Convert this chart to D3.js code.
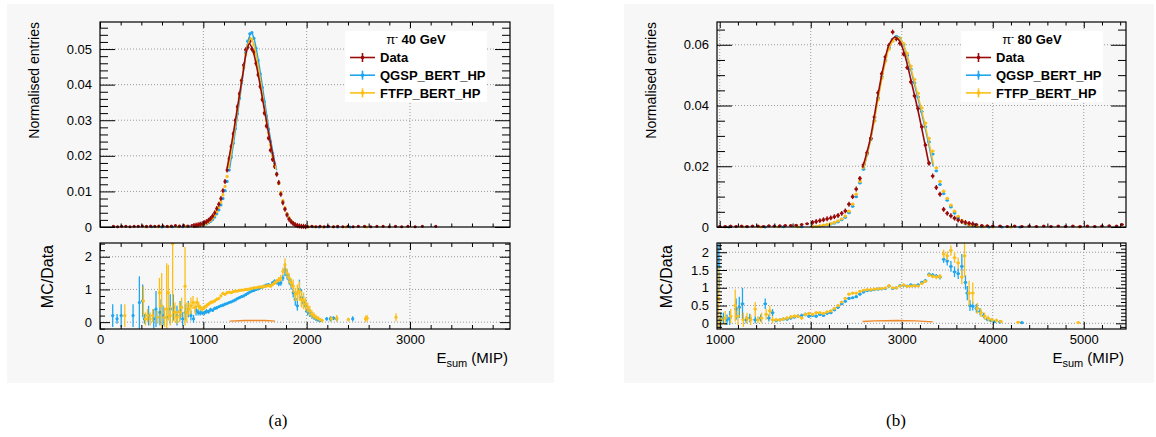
<!DOCTYPE html>
<html><head><meta charset="utf-8">
<script src="https://cdnjs.cloudflare.com/ajax/libs/d3/7.8.5/d3.min.js"></script>
<style>body{margin:0;background:#fff}svg{display:block}text{font-family:"Liberation Sans",Arial,Helvetica,sans-serif}</style>
</head><body><svg id="c" width="1156" height="437"></svg>
<script>
// ---------------- DATA ----------------
const seriesNames = ["Data", "QGSP_BERT_HP", "FTFP_BERT_HP"];
const titleA = "40 GeV", titleB = "80 GeV";
const xTicksA = [0, 1000, 2000, 3000];
const yTicksA = [0, 0.01, 0.02, 0.03, 0.04, 0.05];
const rTicksA = [0, 1, 2];
const xTicksB = [1000, 2000, 3000, 4000, 5000];
const yTicksB = [0, 0.02, 0.04, 0.06];
const rTicksB = [0, 0.5, 1, 1.5, 2];

// panel (a): bin centres (MIP) and normalised entries
const binsA = [910,930,950,970,990,1010,1030,1050,1070,1090,1110,1130,1150,1170,1190,1210,1230,1250,1270,1290,1310,1330,1350,1370,1390,1410,1430,1450,1470,1490,1510,1530,1550,1570,1590,1610,1630,1650,1670,1690,1710,1730,1750,1770,1790,1810,1830,1850,1870,1890,1910,1930,1950,1970,1990];
const dataA = [0.0004,0.0005,0.0006,0.0008,0.0009,0.0012,0.0015,0.0019,0.0024,0.0031,
0.0040,0.0052,0.0064,0.0080,0.0102,0.0128,0.0160,0.0192,0.0226,0.0262,
0.0300,0.0338,0.0375,0.0412,0.0455,0.0498,0.0505,0.0522,0.0500,0.0492,
0.0460,0.0428,0.0395,0.0358,0.0320,0.0284,0.0250,0.0216,0.0190,0.0170,
0.0148,0.0125,0.0092,0.0068,0.0050,0.0034,0.0022,0.0015,0.0010,0.0006,
0.0004,0.0003,0.0002,0.0002,0.0001];
const qgspA = [0.0002,0.0003,0.0003,0.0004,0.0005,0.0007,0.0009,0.0012,0.0016,0.0021,
0.0028,0.0037,0.0048,0.0062,0.0080,0.0102,0.0128,0.0160,0.0196,0.0235,
0.0276,0.0318,0.0362,0.0405,0.0448,0.0490,0.0522,0.0543,0.0546,0.0530,
0.0502,0.0468,0.0430,0.0392,0.0352,0.0312,0.0275,0.0240,0.0207,0.0178,
0.0150,0.0122,0.0096,0.0072,0.0052,0.0036,0.0024,0.0016,0.0010,0.0006,
0.0004,0.0002,0.0001,0.0001,0.0001];
const ftfpA = [0.0002,0.0003,0.0004,0.0005,0.0006,0.0008,0.0011,0.0014,0.0019,0.0025,
0.0033,0.0043,0.0055,0.0070,0.0090,0.0114,0.0142,0.0175,0.0210,0.0248,
0.0288,0.0328,0.0368,0.0408,0.0448,0.0485,0.0512,0.0530,0.0528,0.0512,
0.0485,0.0452,0.0415,0.0376,0.0338,0.0300,0.0264,0.0230,0.0200,0.0174,
0.0148,0.0122,0.0097,0.0074,0.0054,0.0038,0.0026,0.0017,0.0011,0.0007,
0.0004,0.0003,0.0002,0.0001,0.0001];
const dataTailA = [[130,0.0002],[170,0.0001],[210,0.0002],[250,0.0002],[290,0.0001],[330,0.0002],[370,0.0002],[410,0.0003],[450,0.0002],[490,0.0003],[530,0.0002],[570,0.0003],[610,0.0003],[650,0.0002],[690,0.0003],[730,0.0004],[770,0.0003],[810,0.0004],[850,0.0003],[890,0.0004],
[2010,0.0001],[2050,0.0002],[2090,0.0001],[2130,0.0002],[2170,0.0001],[2210,0.0002],[2260,0.0001],[2300,0.0002],[2350,0.0001],[2400,0.0002],[2450,0.0001],[2500,0.0002],[2560,0.0002],[2620,0.0001],[2680,0.0002],[2740,0.0002],[2800,0.0001],[2860,0.0002],[2920,0.0001],[2980,0.0002],[3050,0.0001],[3120,0.0002],[3250,0.0002]];
const qgspTailA = [[500,0.0001],[600,0.0000],[700,0.0001],[800,0.0001],[860,0.0002],[2010,0.0001],[2060,0.0001],[2120,0.0000],[2200,0.0001],[2300,0.0000],[2420,0.0000]];
const ftfpTailA = [[450,0.0000],[560,0.0001],[660,0.0001],[760,0.0001],[840,0.0002],[2020,0.0001],[2080,0.0001],[2160,0.0000],[2260,0.0001],[2380,0.0000],[2580,0.0000]];
const fitA_data = [[1230,0.0165],[1280,0.0245],[1330,0.0335],[1380,0.0425],[1415,0.0490],[1445,0.0515],[1475,0.0500],[1520,0.0445],[1570,0.0365],[1620,0.0282],[1660,0.0220],[1694,0.0172]];
const fitA_qgsp = [[1255,0.0165],[1300,0.0250],[1350,0.0355],[1400,0.0460],[1440,0.0530],[1465,0.0545],[1490,0.0530],[1540,0.0455],[1590,0.0360],[1640,0.0265],[1680,0.0200],[1710,0.0160]];
const fitA_ftfp = [[1245,0.0165],[1290,0.0245],[1340,0.0345],[1390,0.0445],[1430,0.0510],[1455,0.0528],[1480,0.0520],[1530,0.0452],[1580,0.0360],[1630,0.0270],[1670,0.0205],[1705,0.0162]];
// ratio (a): [E, MC/Data, error]
const ratioA_qgsp = [[123,0.2,0.35],[165,0.1,0.15],[205,0.2,0.35],[320,0.2,0.35],[381,0.6,0.8],[413,0.65,0.5],[430,0.1,0.15],[470,0.2,0.3],[520,0.1,0.3],[542,0.4,0.55],[580,0.3,0.4],[610,0.2,0.3],[645,0.15,0.25],[680,0.4,0.45],[710,0.45,0.4],[745,0.2,0.3],[775,0.35,0.3],[800,0.1,0.2],[825,0.3,0.25],[855,0.4,0.25],[880,0.2,0.15],[905,0.1,0.12],[930,0.35,0.15],[950,0.3,0.1],
[970,0.28,0.08],[990,0.3,0.08],[1010,0.28,0.07],[1030,0.33,0.07],[1050,0.32,0.06],[1070,0.38,0.06],[1090,0.36,0.05],[1110,0.42,0.05],[1130,0.44,0.05],[1150,0.47,0.04],[1170,0.5,0.04],[1190,0.52,0.04],[1210,0.55,0.03],[1230,0.57,0.03],[1250,0.6,0.03],[1270,0.62,0.03],[1290,0.65,0.03],[1310,0.68,0.03],[1330,0.72,0.03],[1350,0.75,0.03],[1370,0.78,0.03],[1390,0.8,0.03],[1410,0.84,0.03],[1430,0.88,0.03],[1450,0.92,0.03],[1470,0.95,0.03],[1490,0.97,0.03],[1510,1.0,0.03],[1530,1.02,0.03],[1550,1.05,0.03],[1570,1.07,0.03],[1590,1.1,0.04],[1610,1.13,0.04],[1630,1.15,0.04],[1650,1.12,0.05],[1670,1.2,0.05],[1690,1.25,0.06],[1710,1.22,0.07],[1730,1.18,0.08],[1750,1.2,0.09],[1770,1.35,0.1],[1790,1.6,0.2],[1810,1.45,0.15],[1830,1.3,0.15],[1850,1.15,0.15],[1870,0.9,0.15],[1890,0.7,0.2],[1910,0.5,0.15],[1930,1.0,0.3],[1950,0.75,0.25],[1970,0.6,0.2],[1990,0.5,0.2],[2010,0.35,0.15],[2030,0.28,0.12],[2050,0.2,0.1],[2070,0.15,0.08],[2090,0.1,0.06],[2110,0.07,0.05],[2130,0.05,0.05],[2194,0.1,0.06],[2230,0.1,0.08],[2260,0.12,0.06],[2291,0.1,0.08],[2446,0.1,0.08]];
const ratioA_ftfp = [[240,0.2,0.35],[420,0.65,0.45],[440,0.1,0.2],[460,0.2,0.2],[485,0.1,0.2],[510,0.2,0.2],[560,0.15,0.2],[575,0.9,0.45],[597,0.5,1.0],[625,0.15,0.3],[645,0.4,1.4],[661,0.9,0.85],[680,0.2,0.3],[703,2.4,2.4],[725,0.3,0.3],[745,0.15,0.2],[770,0.3,0.3],[790,0.45,0.3],[823,1.1,1.2],[840,0.3,0.3],[860,0.4,0.2],[880,0.5,0.25],[900,0.6,0.2],[920,0.45,0.2],[940,0.6,0.15],[955,0.5,0.12],
[970,0.45,0.08],[990,0.4,0.08],[1010,0.45,0.07],[1030,0.5,0.07],[1050,0.55,0.06],[1070,0.6,0.06],[1090,0.62,0.05],[1110,0.65,0.05],[1130,0.7,0.05],[1150,0.72,0.04],[1170,0.8,0.04],[1190,0.88,0.04],[1210,0.85,0.03],[1230,0.9,0.03],[1250,0.92,0.03],[1270,0.9,0.03],[1290,0.93,0.03],[1310,0.95,0.03],[1330,0.95,0.03],[1350,0.97,0.03],[1370,0.98,0.03],[1390,0.98,0.03],[1410,1.0,0.03],[1430,1.0,0.03],[1450,1.02,0.03],[1470,1.03,0.03],[1490,1.05,0.03],[1510,1.05,0.03],[1530,1.07,0.03],[1550,1.08,0.03],[1570,1.07,0.03],[1590,1.1,0.04],[1610,1.1,0.04],[1630,1.12,0.04],[1650,1.1,0.05],[1670,1.15,0.05],[1690,1.2,0.06],[1710,1.25,0.07],[1730,1.3,0.08],[1750,1.35,0.1],[1770,1.55,0.12],[1790,1.75,0.2],[1810,1.5,0.15],[1830,1.35,0.15],[1850,1.2,0.15],[1870,1.1,0.2],[1890,0.85,0.2],[1910,0.9,0.25],[1930,0.95,0.3],[1950,0.7,0.25],[1970,0.65,0.25],[1990,0.55,0.2],[2010,0.45,0.15],[2030,0.35,0.15],[2050,0.25,0.12],[2070,0.2,0.1],[2090,0.15,0.08],[2110,0.12,0.06],[2130,0.08,0.05],[2150,0.05,0.05],[2240,0.1,0.08],[2291,0.12,0.1],[2404,0.08,0.06],[2570,0.1,0.1],[2585,0.12,0.1],[2865,0.15,0.12]];
const ratioA_line = [[1255,0.03],[1400,0.05],[1600,0.05],[1694,0.03]];

// panel (b)
const binsB = [2020,2060,2100,2140,2180,2220,2260,2300,2340,2380,2420,2460,2500,2540,2580,2620,2660,2700,2740,2780,2820,2860,2900,2940,2980,3020,3060,3100,3140,3180,3220,3260,3300,3340,3380,3420,3460,3500,3540,3580,3620,3660,3700,3740,3780];
const dataB = [0.0015,0.0018,0.0021,0.0024,0.0027,0.0030,0.0034,0.0038,0.0045,0.0053,
0.0075,0.0100,0.0125,0.0160,0.0205,0.0245,0.0292,0.0362,0.0442,0.0505,
0.0560,0.0598,0.0642,0.0620,0.0605,0.0570,0.0525,0.0478,0.0432,0.0390,
0.0330,0.0270,0.0210,0.0168,0.0130,0.0108,0.0058,0.0045,0.0037,0.0029,
0.0023,0.0018,0.0015,0.0012,0.0010];
const qgspB = [0.0001,0.0002,0.0003,0.0005,0.0007,0.0010,0.0013,0.0017,0.0024,0.0032,
0.0047,0.0068,0.0100,0.0145,0.0190,0.0240,0.0288,0.0350,0.0425,0.0495,
0.0550,0.0590,0.0618,0.0628,0.0622,0.0600,0.0565,0.0520,0.0475,0.0428,
0.0380,0.0330,0.0280,0.0240,0.0185,0.0140,0.0110,0.0088,0.0066,0.0046,
0.0030,0.0018,0.0010,0.0006,0.0004];
const ftfpB = [0.0001,0.0002,0.0004,0.0006,0.0008,0.0011,0.0015,0.0020,0.0027,0.0036,
0.0052,0.0075,0.0108,0.0150,0.0195,0.0242,0.0290,0.0348,0.0420,0.0490,
0.0545,0.0585,0.0612,0.0625,0.0622,0.0604,0.0572,0.0530,0.0486,0.0440,
0.0392,0.0342,0.0292,0.0250,0.0195,0.0150,0.0118,0.0094,0.0072,0.0052,
0.0035,0.0022,0.0012,0.0007,0.0004];
const dataTailB = [[1000,0.0002],[1060,0.0002],[1120,0.0003],[1180,0.0002],[1240,0.0003],[1300,0.0002],[1360,0.0003],[1420,0.0003],[1480,0.0002],[1540,0.0004],[1600,0.0003],[1660,0.0004],[1720,0.0005],[1780,0.0005],[1840,0.0006],[1900,0.0008],[1960,0.0011],
[3820,0.0008],[3880,0.0005],[3940,0.0004],[4000,0.0003],[4080,0.0003],[4160,0.0002],[4240,0.0003],[4320,0.0002],[4400,0.0003],[4480,0.0002],[4560,0.0003],[4640,0.0002],[4720,0.0003],[4800,0.0002],[4880,0.0003],[4960,0.0002],[5040,0.0003],[5120,0.0002],[5200,0.0003],[5280,0.0004],[5360,0.0003],[5420,0.0008]];
const qgspTailB = [[1100,0.0000],[1300,0.0001],[1500,0.0000],[1700,0.0001],[1900,0.0001],[3820,0.0002],[3880,0.0001],[3960,0.0000],[4100,0.0000],[4300,0.0000]];
const ftfpTailB = [[1060,0.0000],[1250,0.0001],[1450,0.0000],[1650,0.0001],[1860,0.0001],[3830,0.0002],[3900,0.0001],[4000,0.0000],[4200,0.0000],[4950,0.0000]];
const fitB_data = [[2570,0.0195],[2650,0.0285],[2730,0.0420],[2800,0.0530],[2860,0.0600],[2920,0.0625],[2970,0.0615],[3030,0.0570],[3100,0.0485],[3170,0.0395],[3240,0.0295],[3300,0.0205]];
const fitB_qgsp = [[2580,0.0190],[2660,0.0290],[2740,0.0425],[2810,0.0535],[2870,0.0600],[2940,0.0628],[3000,0.0612],[3070,0.0550],[3140,0.0470],[3210,0.0385],[3280,0.0295],[3345,0.0200]];
const fitB_ftfp = [[2580,0.0192],[2660,0.0290],[2740,0.0420],[2810,0.0530],[2870,0.0596],[2940,0.0625],[3000,0.0612],[3070,0.0555],[3140,0.0478],[3210,0.0395],[3280,0.0305],[3350,0.0205]];
const ratioB_qgsp = [[990,1.6,0.7],[1010,0.1,0.2],[1040,0.15,0.15],[1080,0.1,0.15],[1110,0.15,0.2],[1180,0.4,0.3],[1215,0.45,0.3],[1250,0.55,0.45],[1290,0.1,0.1],[1330,0.15,0.12],[1390,0.1,0.1],[1450,0.15,0.1],[1500,0.55,0.15],[1540,0.15,0.1],[1580,0.3,0.1],
[1620,0.08,0.05],[1660,0.1,0.05],[1700,0.12,0.05],[1740,0.12,0.05],[1780,0.15,0.05],[1820,0.18,0.05],[1860,0.2,0.05],[1900,0.22,0.05],[1940,0.25,0.05],[1980,0.2,0.04],[2020,0.22,0.04],[2060,0.2,0.04],[2100,0.25,0.04],[2140,0.22,0.03],[2180,0.28,0.03],[2220,0.3,0.03],[2260,0.38,0.03],[2300,0.45,0.03],[2340,0.55,0.03],[2380,0.62,0.03],[2420,0.7,0.03],[2460,0.72,0.03],[2500,0.75,0.03],[2540,0.82,0.03],[2580,0.88,0.02],[2620,0.92,0.02],[2660,0.93,0.02],[2700,0.95,0.02],[2740,0.96,0.02],[2780,0.97,0.02],[2820,0.98,0.02],[2860,1.05,0.02],[2900,0.98,0.02],[2940,1.0,0.02],[2980,1.06,0.02],[3020,1.07,0.02],[3060,1.05,0.02],[3100,1.08,0.03],[3140,1.06,0.03],[3180,1.08,0.03],[3220,1.15,0.03],[3260,1.2,0.04],[3300,1.38,0.05],[3340,1.36,0.05],[3380,1.33,0.06],[3420,1.3,0.07],[3460,1.8,0.1],[3500,1.75,0.12],[3540,1.6,0.15],[3580,1.45,0.15],[3620,1.4,0.15],[3660,1.6,0.35],[3700,1.15,0.2],[3720,0.85,0.2],[3750,0.5,0.15],[3780,0.48,0.12],[3820,0.42,0.12],[3860,0.33,0.1],[3900,0.22,0.08],[3940,0.12,0.06],[3980,0.08,0.05],[4020,0.05,0.04],[4080,0.04,0.04],[4320,0.02,0.03]];
const ratioB_ftfp = [[985,0.7,0.9],[1020,0.1,0.15],[1060,0.15,0.2],[1120,0.2,0.2],[1170,0.5,0.45],[1200,0.2,0.25],[1260,0.1,0.2],[1300,0.15,0.15],[1340,0.1,0.15],[1390,0.4,0.2],[1420,0.1,0.1],[1460,0.15,0.15],[1510,0.25,0.15],[1550,0.35,0.15],[1580,0.1,0.1],
[1620,0.1,0.05],[1660,0.1,0.05],[1700,0.12,0.05],[1740,0.15,0.05],[1780,0.18,0.05],[1820,0.2,0.05],[1860,0.2,0.05],[1900,0.15,0.05],[1940,0.25,0.05],[1980,0.28,0.04],[2020,0.25,0.04],[2060,0.3,0.04],[2100,0.3,0.04],[2140,0.28,0.03],[2180,0.32,0.03],[2220,0.35,0.03],[2260,0.42,0.03],[2300,0.5,0.03],[2340,0.6,0.03],[2380,0.7,0.03],[2420,0.82,0.03],[2460,0.85,0.03],[2500,0.85,0.03],[2540,0.9,0.03],[2580,0.93,0.02],[2620,0.95,0.02],[2660,0.95,0.02],[2700,0.96,0.02],[2740,0.97,0.02],[2780,0.98,0.02],[2820,1.0,0.02],[2860,1.06,0.02],[2900,1.0,0.02],[2940,1.0,0.02],[2980,1.05,0.02],[3020,1.08,0.02],[3060,1.04,0.02],[3100,1.05,0.03],[3140,1.06,0.03],[3180,1.05,0.03],[3220,1.12,0.03],[3260,1.18,0.04],[3300,1.35,0.05],[3340,1.32,0.05],[3380,1.3,0.06],[3420,1.32,0.07],[3460,1.95,0.12],[3500,1.9,0.12],[3540,2.05,0.15],[3580,1.85,0.15],[3620,1.7,0.15],[3660,1.3,0.2],[3690,1.9,0.6],[3740,0.85,0.35],[3780,0.85,0.3],[3830,0.42,0.15],[3870,0.3,0.12],[3910,0.2,0.1],[3950,0.14,0.08],[3990,0.1,0.06],[4040,0.08,0.05],[4090,0.05,0.04],[4280,0.03,0.03],[4940,0.02,0.03]];
const ratioB_line = [[2570,0.05],[2700,0.07],[2950,0.08],[3150,0.07],[3340,0.04]];

// ---------------- STYLE ----------------
const C = {data:"#990b0b", qgsp:"#1fa6ee", ftfp:"#fcbf17", line:"#f0892a"};
const svg = d3.select("#c");
const FONT = '"Liberation Sans",Arial,Helvetica,sans-serif';

function minors(a, b, step, major){
  const out = [];
  for (let i = Math.ceil(a/step - 1e-9); i*step <= b + 1e-9; i++){
    const v = i*step;
    const q = v/major;
    if (Math.abs(q - Math.round(q)) > 1e-6) out.push(+v.toFixed(6));
  }
  return out;
}

function addAxis(g, axis, tr, fs){
  const s = g.append("g").attr("transform", tr).call(axis);
  s.attr("font-size", null).attr("font-family", null);
  s.select(".domain").remove();
  s.selectAll("line").attr("stroke", "#000").attr("stroke-width", 1);
  s.selectAll("text").attr("fill", "#000").style("font-size", (fs||13) + "px").style("font-family", FONT);
  return s;
}

function frame(g, sx, sy, box, o){
  // grid
  const gg = g.append("g").attr("stroke", "#9a9a9a").attr("stroke-dasharray", "1,2").attr("stroke-width", 1);
  o.xMajor.forEach(v => { const px = sx(v); if (px > box.l + 1 && px < box.r - 1)
    gg.append("line").attr("x1", px).attr("x2", px).attr("y1", box.t).attr("y2", box.b); });
  o.yMajor.forEach(v => { const py = sy(v); if (py > box.t + 1 && py <= box.b - 0.5 || (o.gridZero && Math.abs(py-box.b) > 1))
    gg.append("line").attr("x1", box.l).attr("x2", box.r).attr("y1", py).attr("y2", py); });
}

function axesOn(g, sx, sy, box, o){
  const xMin = o.xMinor, yMin = o.yMinor;
  addAxis(g, d3.axisBottom(sx).tickValues(xMin).tickSize(-o.xMinLen).tickFormat(""), `translate(0,${box.b})`);
  addAxis(g, d3.axisBottom(sx).tickValues(o.xMajor).tickSize(-o.xMajLen).tickPadding(6).tickFormat(o.xLabels ? (d => String(d)) : ""), `translate(0,${box.b})`);
  addAxis(g, d3.axisTop(sx).tickValues(xMin).tickSize(-o.xMinLen).tickFormat(""), `translate(0,${box.t})`);
  addAxis(g, d3.axisTop(sx).tickValues(o.xMajor).tickSize(-o.xMajLen).tickFormat(""), `translate(0,${box.t})`);
  addAxis(g, d3.axisLeft(sy).tickValues(yMin).tickSize(-o.yMinLen).tickFormat(""), `translate(${box.l},0)`);
  addAxis(g, d3.axisLeft(sy).tickValues(o.yMajor).tickSize(-o.yMajLen).tickPadding(8).tickFormat(d => String(d)), `translate(${box.l},0)`, o.yFs);
  addAxis(g, d3.axisRight(sy).tickValues(yMin).tickSize(-o.yMinLen).tickFormat(""), `translate(${box.r},0)`);
  addAxis(g, d3.axisRight(sy).tickValues(o.yMajor).tickSize(-o.yMajLen).tickFormat(""), `translate(${box.r},0)`);
  g.append("rect").attr("x", box.l).attr("y", box.t).attr("width", box.r - box.l).attr("height", box.b - box.t)
    .attr("fill", "none").attr("stroke", "#000").attr("stroke-width", 1.2);
}

function points(g, pts, sx, sy, color, hw, r){
  const s = g.append("g").attr("stroke", color).attr("fill", color).attr("stroke-width", 1.3);
  pts.forEach(p => {
    const [E, v, e] = p;
    const px = sx(E), py = sy(v);
    if (e > 0) s.append("line").attr("x1", px).attr("x2", px).attr("y1", sy(v - e)).attr("y2", sy(v + e));
    s.append("line").attr("x1", sx(E - hw)).attr("x2", sx(E + hw)).attr("y1", py).attr("y2", py);
    s.append("circle").attr("cx", px).attr("cy", py).attr("r", r).attr("stroke", "none");
  });
}

function legend(g, x0, y0, title){
  g.append("rect").attr("x", x0).attr("y", y0).attr("width", 142).attr("height", 71).attr("fill", "#fff");
  const t = g.append("text").attr("x", x0 + 71).attr("y", y0 + 13).attr("text-anchor", "middle")
    .style("font-size", "13px").style("font-weight", "bold");
  t.append("tspan").text("\u03c0").style("font-weight", "normal");
  t.append("tspan").text("-").attr("dy", -5).style("font-size", "8px");
  t.append("tspan").text(" " + title).attr("dy", 5);
  const cols = [C.data, C.qgsp, C.ftfp];
  seriesNames.forEach((n, i) => {
    const cy = y0 + 26.5 + i * 17.7;
    g.append("line").attr("x1", x0 + 5).attr("x2", x0 + 30).attr("y1", cy).attr("y2", cy).attr("stroke", cols[i]).attr("stroke-width", 1.6);
    g.append("line").attr("x1", x0 + 17.5).attr("x2", x0 + 17.5).attr("y1", cy - 4.5).attr("y2", cy + 4.5).attr("stroke", cols[i]).attr("stroke-width", 1.6);
    g.append("circle").attr("cx", x0 + 17.5).attr("cy", cy).attr("r", 1.8).attr("fill", cols[i]);
    g.append("text").attr("x", x0 + 35).attr("y", cy + 4.7).text(n).style("font-size", "13px").style("font-weight", "bold");
  });
}

function panel(P){
  const g = svg.append("g");
  g.append("rect").attr("x", P.bg[0]).attr("y", P.bg[1]).attr("width", P.bg[2]).attr("height", P.bg[3]).attr("fill", "#f7f7f7");
  const M = {l: P.l, r: P.r, t: 22, b: 227}, R = {l: P.l, r: P.r, t: 243, b: 329};
  const sx = d3.scaleLinear().domain(P.xDom).range([P.l, P.r]);
  const sy = d3.scaleLinear().domain(P.yDom).range([M.b, M.t]);
  const sr = d3.scaleLinear().domain(P.rDom).range([R.b, R.t]);
  const id = P.id;
  const defs = g.append("defs");
  defs.append("clipPath").attr("id", "cm" + id).append("rect").attr("x", M.l).attr("y", M.t).attr("width", M.r - M.l).attr("height", M.b - M.t + 3);
  defs.append("clipPath").attr("id", "cr" + id).append("rect").attr("x", R.l).attr("y", R.t).attr("width", R.r - R.l).attr("height", R.b - R.t);

  const xMinor = minors(P.xDom[0], P.xDom[1], P.xMinStep, P.xMajStep);
  frame(g, sx, sy, M, {xMajor: P.xTicks, yMajor: P.yTicks});
  frame(g, sx, sr, R, {xMajor: P.xTicks, yMajor: P.rTicks, gridZero: true});

  // main plot
  const gm = g.append("g").attr("clip-path", `url(#cm${id})`);
  const hw = P.binW / 2;
  const tri = (bins, vals, e) => bins.map((b, i) => [b, vals[i], e]);
  const tail = (arr, e) => arr.map(d => [d[0], d[1], e]);
  points(gm, tail(P.qTail, 0), sx, sy, C.qgsp, hw, 1.5);
  points(gm, tail(P.fTail, 0), sx, sy, C.ftfp, hw, 1.5);
  points(gm, tail(P.dTail, P.dErr * 0.4), sx, sy, C.data, hw, 1.5);
  points(gm, tri(P.bins, P.q, P.mErr), sx, sy, C.qgsp, hw, 1.6);
  points(gm, tri(P.bins, P.f, P.mErr), sx, sy, C.ftfp, hw, 1.6);
  points(gm, tri(P.bins, P.d, P.dErr), sx, sy, C.data, hw, 1.6);
  const ln = d3.line().x(d => sx(d[0])).y(d => sy(d[1])).curve(d3.curveCatmullRom);
  gm.append("path").attr("d", ln(P.fitQ)).attr("fill", "none").attr("stroke", C.qgsp).attr("stroke-width", 1.4);
  gm.append("path").attr("d", ln(P.fitF)).attr("fill", "none").attr("stroke", C.ftfp).attr("stroke-width", 1.4);
  gm.append("path").attr("d", ln(P.fitD)).attr("fill", "none").attr("stroke", C.data).attr("stroke-width", 1.6);

  // ratio plot
  const gr = g.append("g").attr("clip-path", `url(#cr${id})`);
  points(gr, P.rQ, sx, sr, C.qgsp, hw, 1.6);
  points(gr, P.rF, sx, sr, C.ftfp, hw, 1.6);
  const lr = d3.line().x(d => sx(d[0])).y(d => sr(d[1]));
  gr.append("path").attr("d", lr(P.rLine)).attr("fill", "none").attr("stroke", C.line).attr("stroke-width", 1.4);

  axesOn(g, sx, sy, M, {xMajor: P.xTicks, xMinor: xMinor, yMajor: P.yTicks,
    yMinor: minors(P.yDom[0], P.yDom[1], P.yMinStep, P.yMajStep), xMajLen: 6, xMinLen: 3.5, yMajLen: 15, yMinLen: 8, xLabels: false});
  axesOn(g, sx, sr, R, {xMajor: P.xTicks, xMinor: xMinor, yMajor: P.rTicks,
    yMinor: minors(P.rDom[0], P.rDom[1], P.rMinStep, P.rMajStep), xMajLen: 7, xMinLen: 4, yMajLen: 10, yMinLen: 5, xLabels: true});

  // axis titles
  g.append("text").attr("transform", `translate(${P.yTitleX},22) rotate(-90)`).attr("text-anchor", "end")
    .style("font-size", "14px").text("Normalised entries");
  g.append("text").attr("transform", `translate(${P.rTitleX},245) rotate(-90)`).attr("text-anchor", "end")
    .style("font-size", "16px").text("MC/Data");
  const xt = g.append("text").attr("x", P.r - 2).attr("y", 362.5).attr("text-anchor", "end").style("font-size", "15px");
  xt.append("tspan").text("E");
  xt.append("tspan").text("sum").attr("dy", 4).style("font-size", "11px");
  xt.append("tspan").text("\u00a0(MIP)").attr("dy", -4);

  legend(g, P.legX, 31, P.title);
  g.append("text").attr("x", P.capX).attr("y", 426).attr("text-anchor", "middle")
    .style("font-family", '"Liberation Serif","Times New Roman",serif').style("font-size", "17px").text(P.cap);
}

panel({id: "a", bg: [7, 4, 547, 379], l: 100, r: 510, xDom: [0, 3968], yDom: [0, 0.0576], rDom: [-0.21, 2.42],
  xTicks: xTicksA, yTicks: yTicksA, rTicks: rTicksA, xMinStep: 200, xMajStep: 1000, yMinStep: 0.002, yMajStep: 0.01,
  rMinStep: 0.2, rMajStep: 1, binW: 20, bins: binsA, d: dataA, q: qgspA, f: ftfpA, dErr: 0.0007, mErr: 0.0003,
  dTail: dataTailA, qTail: qgspTailA, fTail: ftfpTailA, fitD: fitA_data, fitQ: fitA_qgsp, fitF: fitA_ftfp,
  rQ: ratioA_qgsp, rF: ratioA_ftfp, rLine: ratioA_line, yTitleX: 39, rTitleX: 53, legX: 345, title: titleA, capX: 278, cap: "(a)"});
panel({id: "b", bg: [624, 4, 530, 379], l: 717, r: 1126, xDom: [970, 5464], yDom: [0, 0.0675], rDom: [-0.16, 2.26],
  xTicks: xTicksB, yTicks: yTicksB, rTicks: rTicksB, xMinStep: 200, xMajStep: 1000, yMinStep: 0.005, yMajStep: 0.02,
  rMinStep: 0.1, rMajStep: 0.5, binW: 40, bins: binsB, d: dataB, q: qgspB, f: ftfpB, dErr: 0.0008, mErr: 0.0003,
  dTail: dataTailB, qTail: qgspTailB, fTail: ftfpTailB, fitD: fitB_data, fitQ: fitB_qgsp, fitF: fitB_ftfp,
  rQ: ratioB_qgsp, rF: ratioB_ftfp, rLine: ratioB_line, yTitleX: 656, rTitleX: 671.5, legX: 961, title: titleB, capX: 896, cap: "(b)"});
</script></body></html>
